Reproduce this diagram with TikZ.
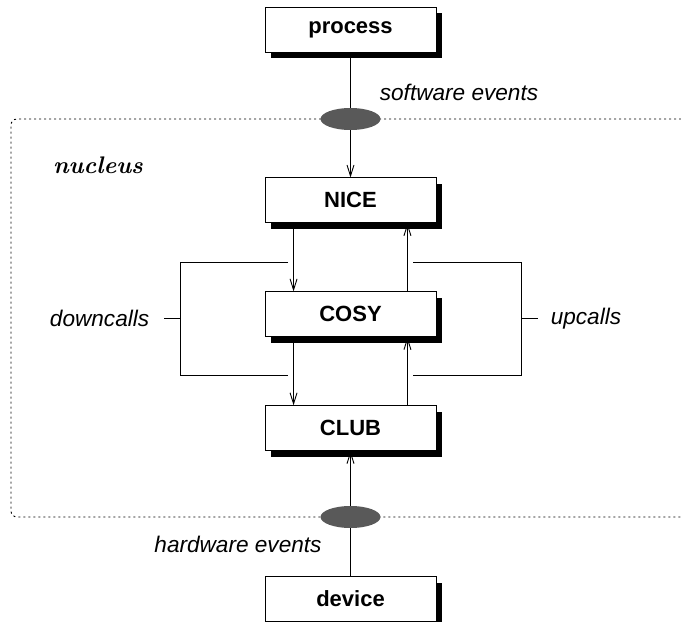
\documentclass[tikz,border=0pt]{standalone}
\usepackage{fontspec}
\newfontfamily\helv{Liberation Sans}
\usetikzlibrary{positioning,shapes.geometric,arrows.meta,shadows}

\begin{document}
\begin{tikzpicture}[x=1pt,y=1pt,
        layer/.style={draw, fill=white, line width=0.9pt, minimum width=171pt, minimum height=45pt, inner sep=0pt,
            font=\helv\bfseries\fontsize{22}{26}\selectfont,
            drop shadow={shadow xshift=6pt, shadow yshift=-6pt, fill=black, opacity=1}},
        label/.style={font=\helv\itshape\fontsize{22.6}{27}\selectfont},
        gate/.style={ellipse, fill=black!65, minimum width=60pt, minimum height=22pt, inner sep=0pt},
        >={Straight Barb[length=11pt,width=7pt]}, line width=0.9pt]
        \useasboundingbox (0,0) rectangle (681,622);
        \node[layer] (process) at (350.5,592.5) {process};
        \node[layer, below=125pt of process] (nice) {NICE};
        \node[layer, below=68pt of nice] (cosy) {COSY};
        \node[layer, below=68pt of cosy] (club) {CLUB};
        \node[layer, below=125pt of club] (device) {device};

        % nucleus border
        \draw[dash pattern=on 2pt off 3pt, rounded corners=6pt] (681,503) -| (11,105) -- (681,105);
        \node[font=\fontsize{24}{28}\selectfont\bfseries\itshape] (nucleus) at (98,457) {nucleus};

        \draw[->] (process) -- (nice);
        \draw[->] (device) -- (club);
        \draw[->] ([xshift=29pt]nice.south west) -- ([xshift=29pt]cosy.north west);
        \draw[->] ([xshift=-29pt]cosy.north east) -- ([xshift=-29pt]nice.south east);
        \draw[->] ([xshift=29pt]cosy.south west) -- ([xshift=29pt]club.north west);
        \draw[->] ([xshift=-29pt]club.north east) -- ([xshift=-29pt]cosy.south east);

        \node[gate] (swgate) at (350.5,503) {};
        \node[gate] (hwgate) at (350.5,105) {};
        \node[label] (software) at (459,530) {software events};
        \node[label] (hardware) at (238,78) {hardware events};

        % call brackets
        \draw (288,360) -| (180,247) -- (288,247);
        \draw (180,303.5) -- (164,303.5) node[label, left=11pt] (down) {downcalls};
        \draw (413,360) -| (521,247) -- (413,247);
        \draw (521,303.5) -- (538,303.5) node[label, right=9pt] (up) {upcalls};
    \end{tikzpicture}
\end{document}
